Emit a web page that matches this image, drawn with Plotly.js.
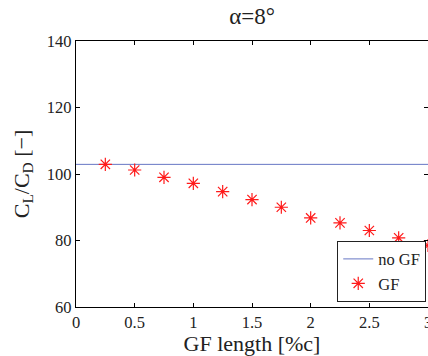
<!DOCTYPE html>
<html>
<head>
<meta charset="utf-8">
<script src="https://cdn.plot.ly/plotly-3.0.1.min.js"></script>
<style>html,body{margin:0;padding:0;background:#fff;}#chart{width:428px;height:356px;}</style>
</head>
<body>
<div id="chart"></div>
<script>
const gfLength = [0.25, 0.5, 0.75, 1.0, 1.25, 1.5, 1.75, 2.0, 2.25, 2.5, 2.75, 3.0];
const gfClCd = [102.9, 101.2, 99.0, 97.2, 94.7, 92.3, 90.0, 86.8, 85.3, 83.0, 80.8, 78.5];
const noGfX = [0, 3];
const noGfClCd = [102.9, 102.9];
const xTicks = [0, 0.5, 1, 1.5, 2, 2.5, 3];
const xTickLabels = ['0', '0.5', '1', '1.5', '2', '2.5', '3'];
const yTicks = [60, 80, 100, 120, 140];

const font = 'Liberation Serif, Times New Roman, serif';
const traces = [
  {x: noGfX, y: noGfClCd, mode: 'lines', name: 'no GF', line: {color: '#6677c4', width: 1}},
  {x: gfLength, y: gfClCd, mode: 'markers', name: 'GF',
   marker: {symbol: 'asterisk-open', size: 11, color: '#ff1a1a', line: {color: '#ff1a1a', width: 1.2}}}
];
const layout = {
  width: 428, height: 356,
  margin: {l: 76, r: 0, t: 41, b: 49},
  paper_bgcolor: '#fff', plot_bgcolor: '#fff',
  font: {family: font, color: '#222', size: 16.5},
  title: {text: 'α=8°', font: {family: font, size: 23, color: '#222'}, x: 0.589, xanchor: 'center', y: 0.955, yanchor: 'middle'},
  xaxis: {range: [0, 3], tickvals: xTicks, ticktext: xTickLabels, ticks: 'inside', ticklen: 4, tickcolor: '#000',
    showline: true, linecolor: '#000', linewidth: 1.2, mirror: 'ticks', showgrid: false, zeroline: false,
    ticklabeloverflow: 'allow',
    tickfont: {family: font, size: 16.5, color: '#222'},
    title: {text: 'GF length [%c]', font: {family: font, size: 22, color: '#222'}, standoff: 2}},
  yaxis: {range: [60, 140], tickvals: yTicks, ticks: 'inside', ticklen: 4, tickcolor: '#000',
    showline: true, linecolor: '#000', linewidth: 1.2, mirror: 'ticks', showgrid: false, zeroline: false,
    tickfont: {family: font, size: 16.5, color: '#222'},
    title: {text: 'C<sub>L</sub>/C<sub>D</sub> [−]', font: {family: font, size: 22, color: '#222'}, standoff: 11}},
  legend: {x: 0.995, xanchor: 'right', y: 0.02, yanchor: 'bottom', bgcolor: '#fff', bordercolor: '#222', borderwidth: 1,
    font: {family: font, size: 16.5, color: '#222'}, tracegroupgap: 0, itemwidth: 30},
  showlegend: true
};
Plotly.newPlot('chart', traces, layout, {displayModeBar: false, staticPlot: true});
</script>
</body>
</html>
